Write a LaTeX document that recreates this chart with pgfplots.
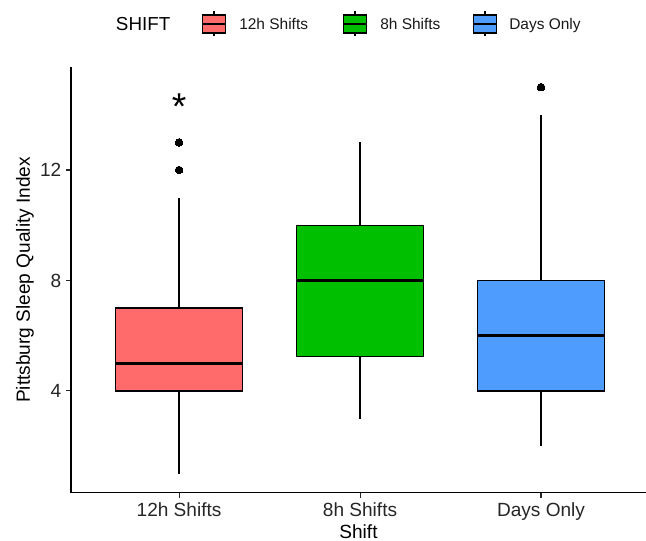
\documentclass[border=0pt]{standalone}
\usepackage{fontspec}
\setmainfont{Liberation Sans}
\usepackage{pgfplots}
\pgfplotsset{compat=1.18}
\usepgfplotslibrary{statistics}
\definecolor{cA}{HTML}{FF6A6A}
\definecolor{cB}{HTML}{00BE00}
\definecolor{cC}{HTML}{4F9CFF}
\newcommand\legkey[2]{%
  \draw[line width=0.8pt, draw=black] (#1+11.5,11.5)--(#1+11.5,36.5);
  \draw[fill=#2, line width=0.8pt, draw=black] (#1,15) rectangle (#1+23,33);
  \draw[line width=1.6pt, draw=black] (#1,24)--(#1+23,24);}
\pgfplotsset{
  boxplot/draw direction=y,
  boxplot/draw/lower whisker/.code={%
    \draw[/pgfplots/boxplot/every whisker/.try]
      (boxplot box cs:\pgfplotsboxplotvalue{lower whisker},0.5) --
      (boxplot box cs:\pgfplotsboxplotvalue{lower quartile},0.5);},
  boxplot/draw/upper whisker/.code={%
    \draw[/pgfplots/boxplot/every whisker/.try]
      (boxplot box cs:\pgfplotsboxplotvalue{upper quartile},0.5) --
      (boxplot box cs:\pgfplotsboxplotvalue{upper whisker},0.5);},
}
\begin{document}
\begin{tikzpicture}
\path[use as bounding box] (0,0) rectangle (484.5pt,405.75pt);
\begin{axis}[
  at={(53.25pt,36.225pt)}, anchor=south west,
  scale only axis, width=431.25pt, height=319.275pt,
  xmin=0.403, xmax=3.58, ymin=0.315, ymax=15.73,
  axis x line*=bottom, axis y line*=left,
  axis line style={line width=0.8pt, black, -},
  xtick={1,2,3}, xticklabels={12h Shifts,8h Shifts,Days Only},
  ytick={4,8,12},
  tick align=outside, major tick length=3.75pt,
  tick style={line width=0.8pt, black!85},
  /pgf/number format/assume math mode=true,
  ticklabel style={font=\fontsize{14.3}{16}\selectfont, text=black!85},
  xlabel={Shift}, ylabel={Pittsburg Sleep Quality Index},
  every axis x label/.style={at={(axis description cs:0.5,0)}, yshift=-29pt, anchor=center, font=\fontsize{14.3}{16}\selectfont},
  every axis y label/.style={at={(axis description cs:0,0.5)}, xshift=-34.5pt, rotate=90, anchor=center, font=\fontsize{14.3}{16}\selectfont},
  boxplot/every median/.style={line width=2pt},
  clip=false,
]
\addplot[boxplot prepared={lower whisker=1, lower quartile=4, median=5, upper quartile=7, upper whisker=11, draw position=1, box extend=0.7, draw direction=y},
  draw=black, fill=cA, line width=0.9pt, mark=*, mark size=2.85pt, mark options={fill=black, draw=black, line width=0pt}]
  coordinates {(0,12) (0,13)};
\addplot[boxplot prepared={lower whisker=3, lower quartile=5.25, median=8, upper quartile=10, upper whisker=13, draw position=2, box extend=0.7, draw direction=y},
  draw=black, fill=cB, line width=0.9pt, mark=*, mark size=2.85pt, mark options={fill=black, draw=black, line width=0pt}]
  coordinates {};
\addplot[boxplot prepared={lower whisker=2, lower quartile=4, median=6, upper quartile=8, upper whisker=14, draw position=3, box extend=0.7, draw direction=y},
  draw=black, fill=cC, line width=0.9pt, mark=*, mark size=2.85pt, mark options={fill=black, draw=black, line width=0pt}]
  coordinates {(0,15)};
\node[font=\fontsize{28}{28}\selectfont, anchor=base, inner sep=0pt] at (axis cs:1,13.82) {*};
\end{axis}
\begin{scope}[shift={(0,405.75pt)}, x=0.75pt, y=-0.75pt]
  \node[anchor=base west, inner sep=0pt, font=\fontsize{14.1}{16}\selectfont] at (115.7,30.7) {SHIFT};
  \legkey{202.5}{cA}
  \legkey{343.5}{cB}
  \legkey{473.5}{cC}
  \node[anchor=base west, inner sep=0pt, font=\fontsize{11.6}{14}\selectfont, text=black!90] at (239,29.5) {12h Shifts};
  \node[anchor=base west, inner sep=0pt, font=\fontsize{11.6}{14}\selectfont, text=black!90] at (380,29.5) {8h Shifts};
  \node[anchor=base west, inner sep=0pt, font=\fontsize{11.6}{14}\selectfont, text=black!90] at (509,29.5) {Days Only};
\end{scope}
\end{tikzpicture}
\end{document}
